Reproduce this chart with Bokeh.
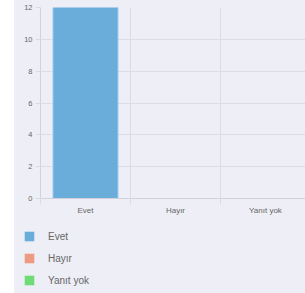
from bokeh.plotting import figure
from bokeh.models import Range1d, FixedTicker, ColumnDataSource, Legend, LegendItem
from bokeh.embed import file_html
from bokeh.resources import INLINE

# Data
categories = ["Evet", "Hayır", "Yanıt yok"]
values = [12, 0, 0]
colors = ["#6aaddb", "#ec9a82", "#6edb76"]
y_ticks = [0, 2, 4, 6, 8, 10, 12]

BG = "#eeeef6"
GRID = "#dcdce6"
TXT = "#666666"
FONT = "Liberation Sans"

n = len(categories)
centers = [i + 0.5 for i in range(n)]
bounds = list(range(n + 1))

src = ColumnDataSource(dict(x=centers, top=values, color=colors, cat=categories))

p = figure(width=291, height=230, output_backend="svg", toolbar_location=None,
           x_range=Range1d(0, 2.945), y_range=Range1d(0, 12),
           min_border_left=26, min_border_right=0, min_border_top=7, min_border_bottom=32)
p.background_fill_color = BG
p.border_fill_color = BG
p.outline_line_color = None
p.margin = (0, 0, 0, 14)
p.styles = {"background-color": BG}

r = p.vbar(x="x", top="top", width=0.72, bottom=0, color="color", line_color=None, source=src)
p.vbar(x="x", top="top", width=0.72, bottom=0, fill_color=None,
       line_color="#8cc0e6", line_width=1,
       source=ColumnDataSource(dict(x=centers[:1], top=values[:1])))

# x axis
xa = p.xaxis[0]
xa.ticker = FixedTicker(ticks=centers, minor_ticks=bounds)
xa.major_label_overrides = {c: lab for c, lab in zip(centers, categories)}
xa.major_tick_line_color = None
xa.major_tick_out = 0
xa.major_tick_in = 0
xa.minor_tick_out = 6
xa.minor_tick_in = 0
xa.minor_tick_line_color = GRID
xa.axis_line_color = "#d2d2dc"
xa.major_label_standoff = 1
xa.major_label_text_font = FONT
xa.major_label_text_font_size = "8px"
xa.major_label_text_color = TXT

p.xgrid.ticker = FixedTicker(ticks=bounds[1:])
p.xgrid.grid_line_color = GRID

# y axis
ya = p.yaxis[0]
ya.ticker = FixedTicker(ticks=y_ticks)
ya.minor_tick_line_color = None
ya.major_tick_out = 5
ya.major_tick_in = 0
ya.major_tick_line_color = GRID
ya.axis_line_color = "#d2d2dc"
ya.major_label_standoff = 3
ya.major_label_text_font = FONT
ya.major_label_text_font_size = "7.5px"
ya.major_label_text_color = TXT
p.ygrid.grid_line_color = GRID

# legend figure
p2 = figure(width=291, height=63, output_backend="svg", toolbar_location=None,
            x_range=Range1d(100, 101), y_range=Range1d(100, 101),
            x_axis_location=None, y_axis_location=None,
            min_border_left=0, min_border_right=0, min_border_top=0, min_border_bottom=0)
p2.background_fill_color = BG
p2.border_fill_color = BG
p2.outline_line_color = None
p2.grid.visible = False
p2.margin = (0, 0, 0, 14)
p2.styles = {"background-color": BG}
r2 = p2.vbar(x="x", top="top", width=0.72, bottom=0, color="color", line_color=None, source=src)

items = [LegendItem(label=categories[i], renderers=[r2], index=i) for i in range(n)]
legend = Legend(items=items, location=(9, 7), orientation="vertical",
                glyph_width=12, glyph_height=12, label_height=12, spacing=10,
                label_standoff=13, padding=0, margin=0,
                border_line_color=None, background_fill_alpha=0,
                label_text_font=FONT, label_text_font_size="10px", label_text_color=TXT)
p2.add_layout(legend, "center")

open("out.html", "w").write(file_html([p, p2], INLINE))
